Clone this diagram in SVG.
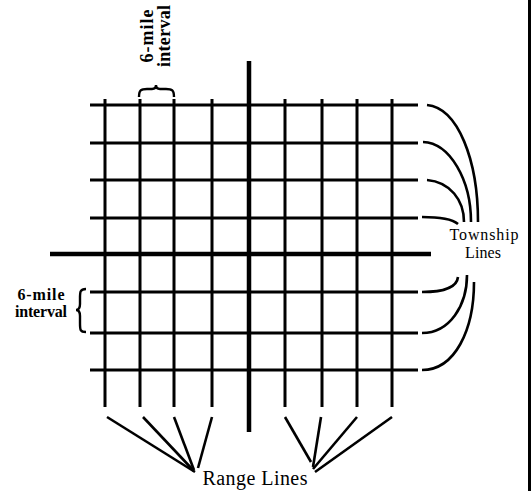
<svg xmlns="http://www.w3.org/2000/svg" width="531" height="491" viewBox="0 0 531 491">
<style>
.thin{stroke:#000;stroke-width:3;fill:none}
.main{stroke:#000;stroke-width:4.5;fill:none}
.conn{stroke:#000;stroke-width:2.6;fill:none}
.brace{stroke:#000;stroke-width:2.4;fill:none}
.lbl{font-family:"Liberation Serif","Times New Roman",serif;fill:#000}
.bold{font-weight:bold}
</style>
<rect width="531" height="491" fill="#fff"/>
<g id="grid">
<g id="township-lines">
<line class="thin" x1="90" y1="105" x2="418" y2="105"/>
<line class="thin" x1="90" y1="143" x2="418" y2="143"/>
<line class="thin" x1="90" y1="180" x2="418" y2="180"/>
<line class="thin" x1="90" y1="218" x2="418" y2="218"/>
<line class="thin" x1="90" y1="292" x2="418" y2="292"/>
<line class="thin" x1="90" y1="333" x2="418" y2="333"/>
<line class="thin" x1="90" y1="370" x2="418" y2="370"/>
</g>
<g id="range-lines">
<line class="thin" x1="105" y1="99" x2="105" y2="407"/>
<line class="thin" x1="140" y1="99" x2="140" y2="407"/>
<line class="thin" x1="174" y1="99" x2="174" y2="407"/>
<line class="thin" x1="212" y1="99" x2="212" y2="407"/>
<line class="thin" x1="285" y1="99" x2="285" y2="407"/>
<line class="thin" x1="322" y1="99" x2="322" y2="407"/>
<line class="thin" x1="357" y1="99" x2="357" y2="407"/>
<line class="thin" x1="392" y1="99" x2="392" y2="407"/>
</g>
<g id="axes">
<line class="main" x1="50" y1="254" x2="431" y2="254"/>
<line class="main" x1="249" y1="61" x2="249" y2="432"/>
</g>
</g>
<g id="border">
<line x1="529.5" y1="0" x2="529.5" y2="491" stroke="#000" stroke-width="3"/>
</g>
<g id="top-interval">
<path class="brace" d="M139,97 C139,90 141,89 147,89 L152,89 C155,89 156,88 156,85 C156,88 157,89 160,89 L166,89 C172,89 174,90 174,97"/>
<text class="lbl bold" font-size="18" transform="translate(153,36) rotate(-90)" text-anchor="middle" textLength="53">6-mile</text>
<text class="lbl bold" font-size="18" transform="translate(170,36) rotate(-90)" text-anchor="middle" textLength="62">interval</text>
</g>
<g id="left-interval">
<path class="brace" d="M86,289 C80,289 80,292 80,298 L80,304 C80,308 79,310 76,310 C79,310 80,312 80,316 L80,323 C80,330 80,332 86,332"/>
<text class="lbl bold" x="41" y="300" font-size="16" text-anchor="middle" textLength="47">6-mile</text>
<text class="lbl bold" x="41" y="317" font-size="16" text-anchor="middle" textLength="52">interval</text>
</g>
<g id="township-label">
<text class="lbl" x="484" y="240" font-size="16" text-anchor="middle" textLength="69">Township</text>
<text class="lbl" x="483" y="258" font-size="16" text-anchor="middle" textLength="36">Lines</text>
</g>
<g id="range-label">
<text class="lbl" x="255" y="485" font-size="20" text-anchor="middle" textLength="105">Range Lines</text>
</g>
<g id="connectors">
<path class="conn" d="M427,105 C458,108 478,160 478,222"/>
<path class="conn" d="M423,142 C450,143 471,180 471,222"/>
<path class="conn" d="M427,180 C450,182 464,200 464,222"/>
<path class="conn" d="M422,217 C440,217 452,219 458,224"/>
<path class="conn" d="M422,292 C445,292 457,287 458,277"/>
<path class="conn" d="M422,333 C450,333 467,305 467,275"/>
<path class="conn" d="M422,370 C455,370 474,330 474,282"/>
<line class="conn" x1="107" y1="417" x2="195" y2="472"/>
<line class="conn" x1="143" y1="417" x2="194" y2="471"/>
<line class="conn" x1="174" y1="417" x2="194" y2="470"/>
<line class="conn" x1="212" y1="417" x2="198" y2="468"/>
<line class="conn" x1="285" y1="417" x2="311" y2="462"/>
<line class="conn" x1="321" y1="417" x2="313" y2="467"/>
<line class="conn" x1="357" y1="417" x2="313" y2="469"/>
<line class="conn" x1="392" y1="417" x2="315" y2="472"/>
</g>
</svg>
